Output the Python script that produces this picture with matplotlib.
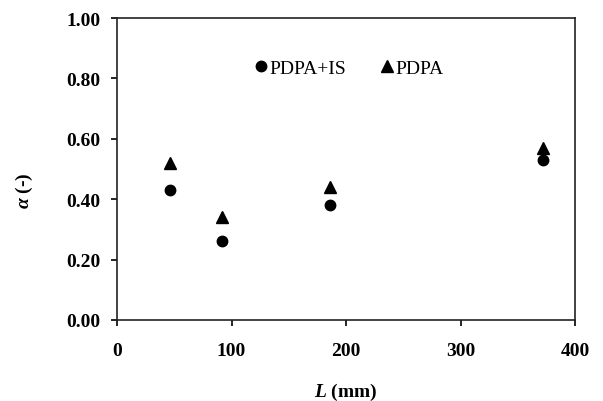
import matplotlib
matplotlib.use("Agg")
import matplotlib.pyplot as plt

L_mm = [46, 92, 186, 372]
alpha_pdpa_is = [0.43, 0.26, 0.38, 0.53]
alpha_pdpa = [0.52, 0.34, 0.44, 0.57]
x_ticks = [0, 100, 200, 300, 400]
y_ticks = [0.0, 0.2, 0.4, 0.6, 0.8, 1.0]

plt.rcParams['font.family'] = ['Liberation Serif', 'DejaVu Serif']
plt.rcParams['mathtext.fontset'] = 'custom'
plt.rcParams['mathtext.rm'] = 'Liberation Serif'
plt.rcParams['mathtext.it'] = 'Liberation Serif:italic'
plt.rcParams['mathtext.bf'] = 'Liberation Serif:bold'
plt.rcParams['mathtext.bfit'] = 'Liberation Serif:italic:bold'

FS = 14

fig = plt.figure(figsize=(6.03, 4.02), dpi=100)
ax = fig.add_axes([117/603, 1 - 321/402, (575-117)/603, (321-19)/402])

ax.plot(L_mm, alpha_pdpa_is, linestyle='none', marker='o', color='black',
        markersize=7.5, label='PDPA+IS')
ax.plot(L_mm, alpha_pdpa, linestyle='none', marker='^', color='black',
        markersize=8, label='PDPA')

ax.set_xlim(0, 400)
ax.set_ylim(0, 1.0)
ax.set_xticks(x_ticks)
ax.set_yticks(y_ticks)
ax.set_xticklabels([str(v) for v in x_ticks], fontweight='bold', fontsize=FS)
ax.set_yticklabels([f"{v:.2f}" for v in y_ticks], fontweight='bold', fontsize=FS)
ax.tick_params(direction='out', length=4, width=1.2, colors='black')
ax.tick_params(axis='x', pad=12)
ax.tick_params(axis='y', pad=8)
for s in ax.spines.values():
    s.set_linewidth(1.2)
    s.set_color('#222222')

ax.set_xlabel(r'$\mathbfit{L}$ (mm)', fontweight='bold', fontsize=FS)
ax.set_ylabel(r'$\mathbfit{\alpha}$ (-)', fontweight='bold', fontsize=FS)
ax.xaxis.set_label_coords(0.5, -0.2)
ax.yaxis.set_label_coords(-0.18, 0.43)

leg = ax.legend(loc='upper left', bbox_to_anchor=(0.285, 0.89), ncol=2, frameon=False,
                fontsize=FS, handlelength=0.6, handletextpad=0.1, columnspacing=1.85,
                borderaxespad=0)

fig.savefig('out.png', dpi=100)
